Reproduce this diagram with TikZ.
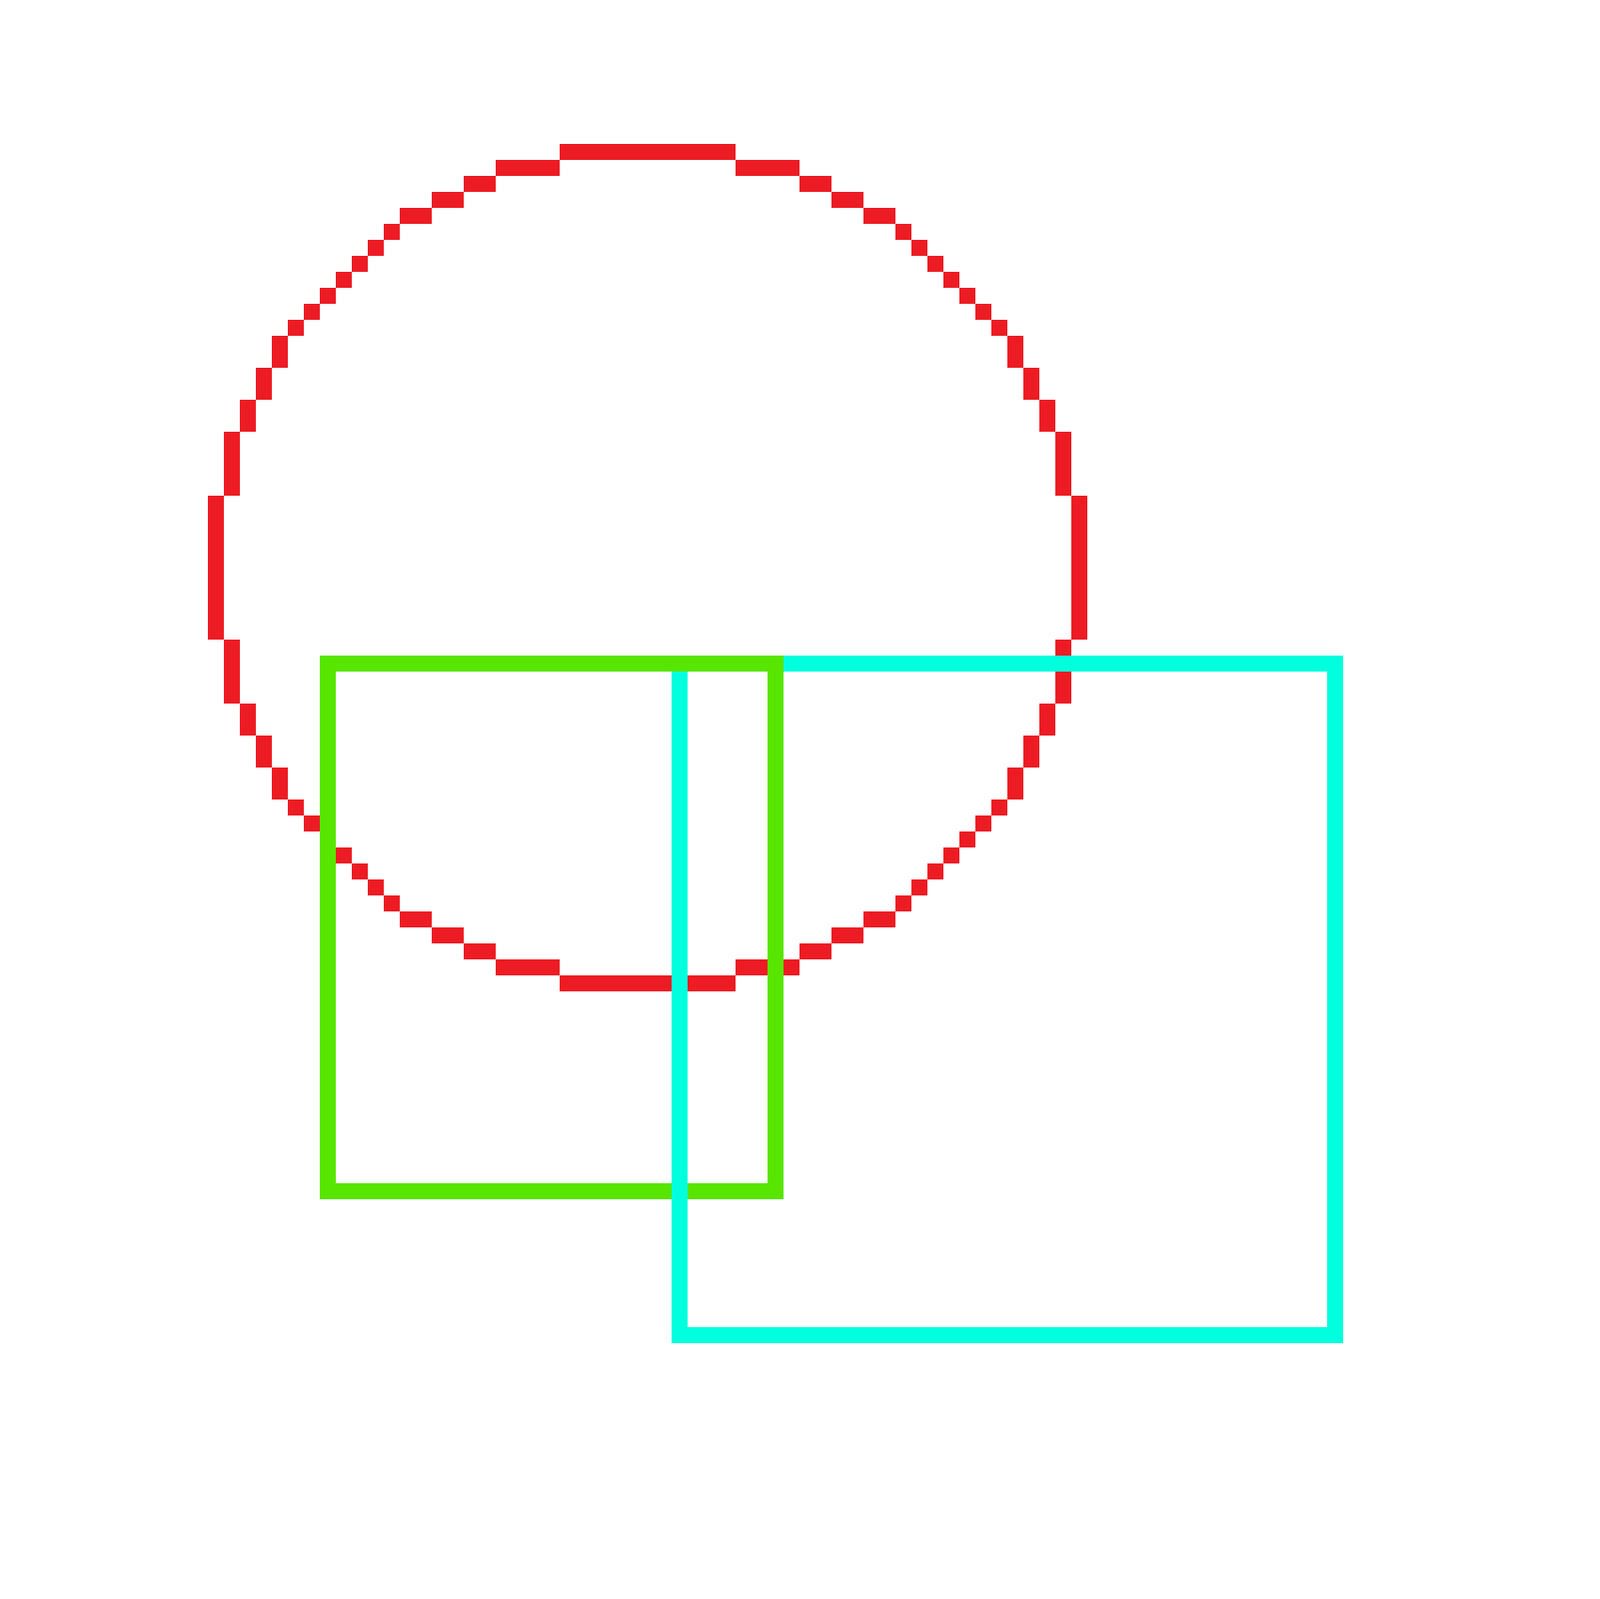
\documentclass[tikz,border=0pt]{standalone}
\usepackage{tikz}
\definecolor{ringred}{RGB}{237,28,36}
\definecolor{boxgreen}{RGB}{88,230,0}
\definecolor{boxcyan}{RGB}{0,255,221}

\begin{document}
\begin{tikzpicture}[x=0.16cm,y=-0.16cm,
    pixel/.style={fill=ringred},
    frame/.style={line width=0.16cm,miter limit=10}]
   \useasboundingbox (0,0) rectangle (100,100);
   % pixel ring, one quarter mirrored four times
   \foreach \xa/\xb/\ya/\yb in {35/40/9/9,31/34/10/10,29/30/11/11,27/28/12/12,25/26/13/13,
       24/24/14/14,23/23/15/15,22/22/16/16,21/21/17/17,20/20/18/18,19/19/19/19,18/18/20/20,
       17/17/21/22,16/16/23/24,15/15/25/26,14/14/27/30,13/13/31/35}{
     \fill[pixel] (\xa,\ya) rectangle (\xb+1,\yb+1);
     \fill[pixel] (80-\xb,\ya) rectangle (81-\xa,\yb+1);
     \fill[pixel] (\xa,70-\yb) rectangle (\xb+1,71-\ya);
     \fill[pixel] (80-\xb,70-\yb) rectangle (81-\xa,71-\ya);
   }
   \draw[frame,draw=boxcyan] (42.5,41.5) rectangle (83.5,83.5);
   \draw[frame,draw=boxgreen] (20.5,41.5) rectangle (48.5,74.5);
   \draw[frame,draw=boxcyan] (42.5,74) -- (42.5,75);
\end{tikzpicture}
\end{document}
